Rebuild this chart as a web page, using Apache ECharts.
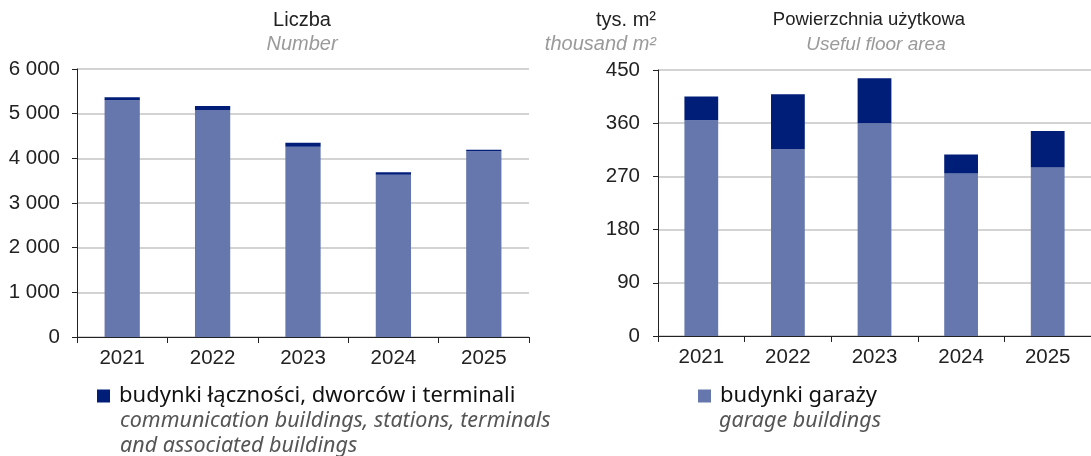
<!DOCTYPE html>
<html>
<head>
<meta charset="utf-8">
<script src="https://cdn.jsdelivr.net/npm/echarts@6/dist/echarts.min.js"></script>
<style>
  html, body { margin: 0; padding: 0; background: #fff; }
  #chart { width: 1091px; height: 456px; }
</style>
</head>
<body>
<div id="chart"></div>
<script>
// Building completions: transport & communication buildings, 2021-2025
const years = ['2021', '2022', '2023', '2024', '2025'];
const countTicks = [0, 1000, 2000, 3000, 4000, 5000, 6000];
const areaTicks = [0, 90, 180, 270, 360, 450];

// Number of buildings
const countGarage = [5300, 5080, 4260, 3630, 4160];
const countComm = [65, 90, 90, 60, 30];

// Useful floor area, thousand m2
const areaGarage = [365, 316, 360, 275, 285];
const areaComm = [40, 93, 76, 32, 62];

const nameGarage = 'budynki garaży';
const nameComm = 'budynki łączności, dworców i terminali';

const LIGHT = '#6677ad';
const DARK = '#001d78';
const AXIS_FONT = '"Liberation Sans", Arial, sans-serif';
const LEG_FONT = '"Noto Sans", "Open Sans", sans-serif';

const withSpaces = v => String(v).replace(/\B(?=(\d{3})+(?!\d))/g, ' ');

function xAxis(gridIndex) {
  return {
    type: 'category', gridIndex, data: years,
    axisLine: { lineStyle: { color: '#222', width: 1 } },
    axisTick: { show: true, length: 6, lineStyle: { color: '#222' } },
    axisLabel: { color: '#222', fontSize: 20.5, fontFamily: AXIS_FONT, margin: 11 }
  };
}
function yAxis(gridIndex, ticks, margin) {
  return {
    type: 'value', gridIndex,
    min: ticks[0], max: ticks[ticks.length - 1], interval: ticks[1] - ticks[0],
    axisLine: { show: true, lineStyle: { color: '#222', width: 1 } },
    axisTick: { show: true, length: 5, lineStyle: { color: '#222' } },
    splitLine: { lineStyle: { color: '#c4c4c4', width: 1.5 } },
    axisLabel: { color: '#222', fontSize: 20.5, fontFamily: AXIS_FONT, margin, formatter: withSpaces }
  };
}
function bar(name, data, color, idx, stack) {
  return {
    name, type: 'bar', data, stack, xAxisIndex: idx, yAxisIndex: idx,
    barWidth: '39%',
    itemStyle: { color },
    emphasis: { disabled: true }
  };
}

const titleText = (x, y, text, align, italic, size) => ({
  type: 'text', x, y,
  style: {
    text, textAlign: align, textVerticalAlign: 'middle',
    fontSize: size || 20, fontFamily: AXIS_FONT,
    fontStyle: italic ? 'italic' : 'normal',
    fill: italic ? '#9a9a9a' : '#222'
  }
});
const legendNote = (x, y, text) => ({
  type: 'text', x, y,
  style: {
    text, textAlign: 'left', textVerticalAlign: 'middle',
    fontSize: 21.5, fontFamily: LEG_FONT, fontStyle: 'italic', fill: '#555'
  }
});
const legendBox = left => ({
  left, top: 385, padding: 0,
  itemWidth: 13, itemHeight: 13, selectedMode: false,
  icon: 'rect',
  textStyle: { fontSize: 22, fontFamily: LEG_FONT, color: '#111', padding: [0, 0, 0, 4] }
});

const chart = echarts.init(document.getElementById('chart'), null, { renderer: 'canvas' });
chart.setOption({
  animation: false,
  grid: [
    { left: 77, top: 69, width: 452, height: 268 },
    { left: 658, top: 70, width: 442, height: 266 }
  ],
  xAxis: [xAxis(0), xAxis(1)],
  yAxis: [yAxis(0, countTicks, 17), yAxis(1, areaTicks, 18)],
  legend: [
    Object.assign({ data: [nameComm] }, legendBox(97)),
    Object.assign({ data: [nameGarage] }, legendBox(698))
  ],
  graphic: [
    titleText(302, 20, 'Liczba', 'center', false),
    titleText(302, 44, 'Number', 'center', true),
    titleText(869, 20, 'Powierzchnia użytkowa', 'center', false, 18.5),
    titleText(876, 45, 'Useful floor area', 'center', true, 19),
    titleText(656, 20, 'tys. m²', 'right', false),
    titleText(656, 44, 'thousand m²', 'right', true),
    legendNote(120, 421, 'communication buildings, stations, terminals'),
    legendNote(120, 446, 'and associated buildings'),
    legendNote(719, 421, 'garage buildings')
  ],
  series: [
    bar(nameGarage, countGarage, LIGHT, 0, 'count'),
    bar(nameComm, countComm, DARK, 0, 'count'),
    bar(nameGarage, areaGarage, LIGHT, 1, 'area'),
    bar(nameComm, areaComm, DARK, 1, 'area')
  ]
});
</script>
</body>
</html>
